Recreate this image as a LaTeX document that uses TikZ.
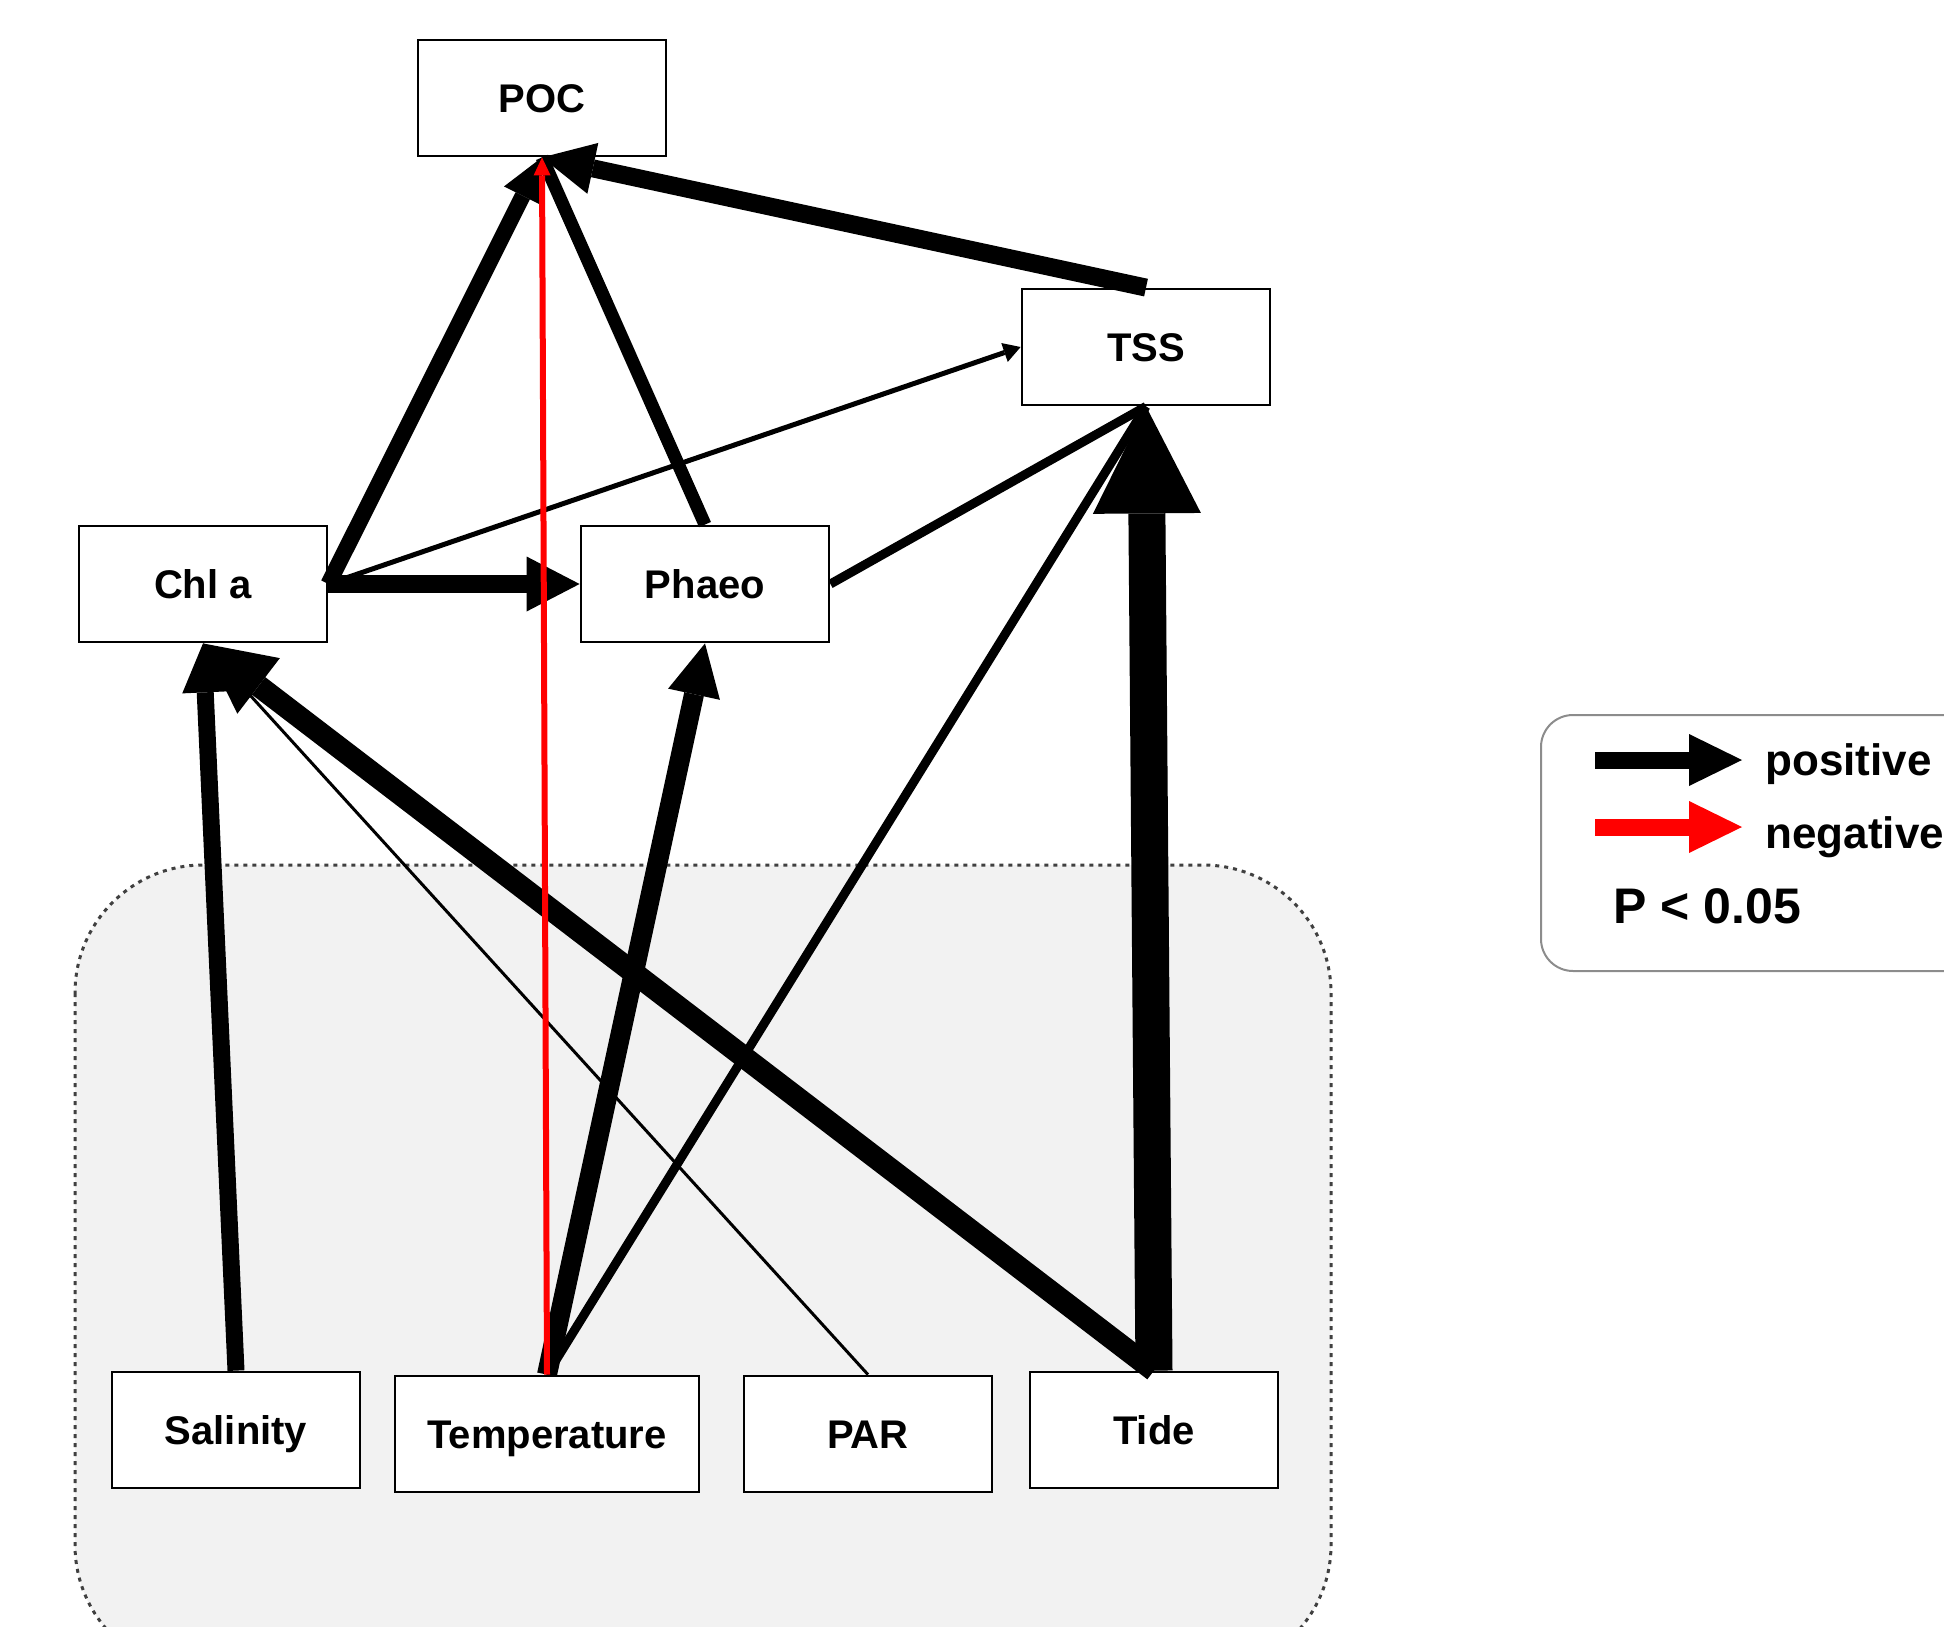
\documentclass[tikz,border=0pt]{standalone}
\usepackage{fontspec}
\setmainfont{Liberation Sans}
\usetikzlibrary{arrows.meta}

\begin{document}
\begin{tikzpicture}[x=0.5pt, y=-0.5pt, node distance=251pt,
    var/.style={draw, line width=1.4pt, fill=white, minimum width=124pt, minimum height=58pt, inner sep=0pt, text height=14.3pt, text depth=0pt, font=\bfseries\fontsize{20}{24}\selectfont},
    eff/.style n args={3}{line width=#1, -{Triangle[length=#2, width=#3, line width=0pt]}},
    neg/.style={red},
    legtxt/.style={anchor=base west, inner sep=0pt, font=\bfseries\fontsize{22}{26}\selectfont}]
      \clip (0,0) rectangle (1944,1627);
      \draw [fill=black!5, draw=black!75, line width=1.5pt, dash pattern=on 2pt off 2.5pt, rounded corners=64pt] (75,865) rectangle (1331,1673);
      \node[var] (poc) at (542,98) {POC};
      \node[var] (tss) at (1146,347) {TSS};
      \node[var] (chla) at (203,584) {Chl a};
      \node[var] (phaeo) [right of=chla] {Phaeo};
      \node[var] (sal) at (236,1430) {Salinity};
      \node[var, minimum width=152pt] (temp) at (547,1434) {Temperature};
      \node[var] (par) at (868,1434) {PAR};
      \node[var] (tide) at (1154,1430) {Tide};
    \draw [eff={8.5pt}{24.5pt}{23pt}] (sal.north) to (chla.south);
    \draw [eff={1.5pt}{7pt}{6pt}] (par.north) to (chla.south);
    \draw [eff={11pt}{35pt}{35pt}] (tide.north) to (chla.south);
    \draw [eff={10pt}{26pt}{26.5pt}] (temp.north) to (phaeo.south);
    \draw [-, line width=4.5pt] (temp.north) to (tss.south);
    \draw [-, line width=4.5pt] (phaeo.east) to (tss.south);
    \draw [eff={18.5pt}{53.5pt}{54pt}] (tide.north) to (tss.south);
    \draw [eff={2.5pt}{8.5pt}{10pt}] (chla.east) to (tss.west);
    \draw [eff={9pt}{26.5pt}{27.5pt}] (chla.east) to (phaeo.west);
    \draw [eff={8pt}{21.5pt}{21pt}] (chla.east) to (poc.south);
    \draw [-, line width=6.5pt] (phaeo.north) to (poc.south);
    \draw [eff={9pt}{26pt}{26pt}] (tss.north) to (poc.south);
    \draw [eff={3pt}{9pt}{8.5pt}, neg] (temp.north) to (poc.south);
      \draw [draw=black!45, line width=1pt, fill=white, rounded corners=16pt] (1541,715) rectangle (1990,971);
      \coordinate (p0) at (1595,760);
      \coordinate (p1) at (1742,760);
      \coordinate (n0) at (1595,827);
      \coordinate (n1) at (1742,827);
    \draw [eff={8.5pt}{26.5pt}{26pt}] (p0) to (p1);
    \draw [eff={8.5pt}{26.5pt}{26pt}, neg] (n0) to (n1);
      \node[legtxt] (postxt) at (1765,775) {positive};
      \node[legtxt] (negtxt) at (1765,848) {negative};
      \node[legtxt, font=\bfseries\fontsize{25}{29}\selectfont] (ptxt) at (1613,923) {P < 0.05};
      \end{tikzpicture}
\end{document}
